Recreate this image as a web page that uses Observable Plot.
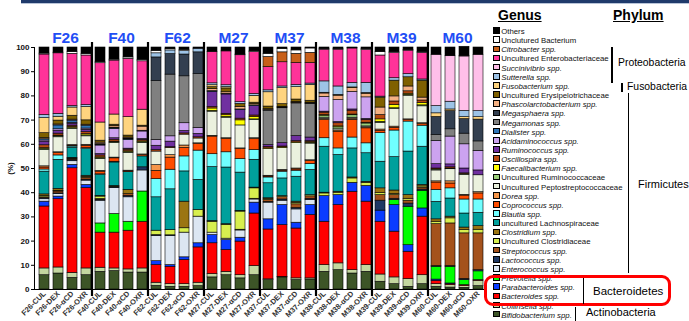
<!DOCTYPE html>
<html>
<head>
<meta charset="utf-8">
<script src="https://cdn.jsdelivr.net/npm/d3@7"></script>
<script src="https://cdn.jsdelivr.net/npm/@observablehq/plot@0.6"></script>
<style>
  body { margin: 0; background: #fff; }
  #wrap { position: relative; width: 689px; height: 321px; overflow: hidden; font-family: "Liberation Sans", Arial, sans-serif; }
  #chart { position: absolute; left: 0; top: 0; }
  .topbar { position: absolute; left: 21px; top: 0; width: 668px; height: 3px; background: #1f3a6b; border-bottom: 1.5px solid #b8c4d8; }
  .hdr { position: absolute; font-weight: bold; font-size: 14px; text-decoration: underline; color: #000; line-height: 14px; }
  .leg { position: absolute; left: 493px; font-size: 7.8px; color: #111; white-space: nowrap; line-height: 9px; }
  .leg i { font-style: italic; }
  .sw { display: inline-block; width: 4.6px; height: 4.6px; border: 0.8px solid #000; margin-right: 1.6px; vertical-align: 0.2px; }
  .vl { position: absolute; background: #000; }
  .ph { position: absolute; font-size: 11px; color: #000; white-space: nowrap; line-height: 12px; }
  .box { position: absolute; border: 3.5px solid #f00; border-radius: 9px; }
</style>
</head>
<body>
<div id="wrap">
  <div class="topbar"></div>
  <div id="chart"></div>
</div>
<script>
// Genera, bottom of each stack first
const genera = [
  "Bifidobacterium spp.", "Collinsella spp.", "Bacteroides spp.", "Parabacteroides spp.",
  "Prevotella spp.", "Enterococcus spp.", "Lactococcus spp.", "Streptococcus spp.",
  "Uncultured Clostridiaceae", "Clostridium spp.", "uncultured Lachnospiraceae", "Blautia spp.",
  "Coprococcus spp.", "Dorea spp.", "Uncultured Peptostreptococcaceae", "Uncultured Ruminococcaceae",
  "Faecalibacterium spp.", "Oscillospira spp.", "Ruminococcus spp.", "Acidaminococcus spp.",
  "Dialister spp.", "Megamonas spp.", "Megasphaera spp.", "Phascolarctobacterium spp.",
  "Uncultured Erysipelotrichaceae", "Fusobacterium spp.", "Sutterella spp.", "Succinivibrio spp.",
  "Uncultured Enterobacteriaceae", "Citrobacter spp.", "Unclutured Bacterium", "Others"
];
const generaColors = [
  "#3d5527", "#c4d7a0", "#ff0000", "#0a3cff",
  "#00ff00", "#dce6f2", "#1f3864", "#a4521c",
  "#d8ef4f", "#9b7512", "#00a09c", "#70ffff",
  "#ff4d00", "#f7964a", "#ebf1de", "#9bd07a",
  "#ffff00", "#b84a10", "#7030a0", "#cca3f0",
  "#2e75b6", "#808080", "#333f50", "#f4b183",
  "#7f6000", "#ffd47f", "#9dc3e6", "#ffbfe9",
  "#ff3399", "#c8601a", "#ffffff", "#000000"
];

const groups = ["F26", "F40", "F62", "M27", "M37", "M38", "M39", "M60"];
const treatments = ["CUL", "DEX", "αCD", "OXR"];

// Relative abundance (%) per sample, same order as genera
const F26_CUL = [5.9,2.8,25.6,2.0,0,1.0,0.5,0.3,0.6,0.6,9.4,0.9,0.8,0.5,6.7,0.5,0.3,1.2,1.5,0.5,0.5,0,0,0.5,2.0,6.2,1.3,0,25.0,0,0.4,2.5];
const F26_DEX = [6.6,2.5,28.2,1.1,0,1.0,0.3,0.8,0.3,0.8,12.0,1.8,1.0,0.3,6.2,0.4,0.3,0.8,1.2,0.6,1.6,0,0,0.4,1.6,1.6,1.2,0,25.0,0,0.3,2.1];
const F26_aCD = [4.8,2.1,43.2,1.4,0,1.5,0.5,0.3,0.3,0.3,4.2,0.5,0.3,0.3,6.6,0.4,0.4,0.6,0.8,0.4,0.9,0,0,0.4,1.6,3.4,0.6,0,21.6,0,0.7,1.9];
const F26_OXR = [5.9,2.8,33.2,1.3,0,1.8,0.4,0.8,0.3,0.5,11.0,0.4,1.0,0.4,3.5,0.4,0.5,0.8,1.0,0.5,1.2,0,0,0.4,1.8,5.5,0.8,0,20.5,0,0.6,2.7];

const F40_CUL = [7.3,1.7,14.5,0,3.8,9.4,0.4,0.3,1.0,0.3,8.6,0.3,1.1,0.3,5.0,0.3,0.3,0.8,0.6,3.5,0.3,0,0.3,0.6,0.8,7.5,0,0,24.5,0,0.4,6.1];
const F40_DEX = [7.6,1.1,14.8,0,7.7,10.7,0.3,0.3,0.3,0,9.7,0.3,1.4,0.3,6.0,0.3,0.3,0.8,0.6,3.8,0.3,0,0.3,0.6,0.6,4.2,0,0,22.3,0,0.4,5.0];
const F40_aCD = [7.0,1.3,16.0,0,3.7,10.1,0.6,0.7,0,1.8,7.3,0,0.3,0.3,7.4,0.3,0.3,0.7,0.4,3.6,0.3,0,0.3,0.4,0.8,7.6,0,0,24.1,0,0.6,4.1];
const F40_OXR = [7.0,1.7,19.3,0,12.5,8.7,1.3,0,0,0,4.5,0,0.5,0.3,4.8,0.3,0.3,0.6,0.4,3.1,0.3,0,0,1.7,0.4,6.6,0,0,20.0,0,0.6,5.1];

const F62_CUL = [1.5,1.3,7.3,1.6,0,10.4,0.4,0,1.8,0,13.8,7.5,3.4,2.4,5.6,0,0,0.6,1.8,2.4,0,24.3,9.8,0,0,0,1.7,0,0,0,1.0,1.4];
const F62_DEX = [1.1,1.1,7.2,0.7,0,12.0,0.3,0,2.2,0,16.8,8.1,5.0,1.0,3.0,0,0,0.3,2.3,2.2,0,25.5,8.5,0,0,0,1.5,0,0,0,0.5,0.7];
const F62_aCD = [1.1,1.1,10.0,1.1,0,10.2,0,0,1.8,11.0,12.5,6.2,3.5,1.0,4.5,0,0,0.5,1.0,3.2,0,19.4,9.0,0,0,0,1.4,0,0,0,0.5,1.0];
const F62_OXR = [1.4,1.4,14.6,1.7,0,11.0,0,0,2.8,0,12.4,12.1,2.7,0.3,2.0,0,0,0.5,1.4,2.5,0,22.2,9.0,0,0,0,1.5,0,0,0,0,0.5];

const M27_CUL = [5.0,1.4,12.7,3.4,0,1.0,0,0,4.5,0.3,22.3,5.3,7.3,0.3,10.0,0.3,1.0,0.6,6.3,0,0.3,0,0,0.8,0.8,0.8,0.8,0,13.0,0,0,1.8];
const M27_DEX = [5.9,1.4,9.0,4.1,0,0.6,0,0,5.7,0.3,23.4,6.3,5.5,0.3,8.5,0.3,0.7,0.6,8.0,0,0.3,0,0,0.6,1.6,0.5,0.8,0,14.0,0,0,1.6];
const M27_aCD = [4.6,1.3,13.9,1.6,0,3.0,0.3,0,7.5,0.3,15.8,5.6,4.1,0.3,9.5,0,2.1,0.7,3.5,0,0.3,0,0,1.1,1.2,0,0.7,0,19.4,0,0.3,2.9];
const M27_OXR = [5.9,3.8,21.7,4.5,0,1.3,0,0.3,4.3,0.3,11.5,4.0,4.5,0.4,7.5,0.3,1.0,0.6,3.9,0,0.3,0,0,0.5,0.6,2.8,0.8,0,17.3,0,0.3,1.6];

const M37_CUL = [3.9,0.3,20.6,4.2,0,6.9,0.3,0.8,0.3,0.4,6.2,2.4,0.4,0.3,11.0,0,0.3,0.6,0.8,0,0,14.2,0.3,0.3,1.1,5.9,0.8,0,9.6,4.2,1.3,2.6];
const M37_DEX = [5.0,0.2,21.4,8.3,0,1.8,0.5,1.0,0.4,0,7.3,2.8,0.4,0.3,9.0,0,0.3,0.4,1.4,0,0,14.4,0.3,0.3,1.1,6.6,0.7,0,10.0,4.1,1.4,0.6];
const M37_aCD = [3.9,0.7,20.6,2.4,0,5.5,0.6,1.5,0.5,0.6,10.3,2.5,0.5,0.4,10.5,0,0.3,0.5,2.1,0,0,13.5,0.3,0.3,1.0,5.1,0.9,0,9.1,3.8,1.4,1.2];
const M37_OXR = [4.1,0.5,26.2,4.1,0,2.1,0.5,1.0,0.5,0,10.4,2.5,1.2,0.3,6.9,0.3,0.3,0.4,1.5,0,0,13.8,0.3,0.3,0.8,6.5,0.6,0,8.5,4.2,1.8,0.4];

const M38_CUL = [7.3,2.8,17.9,10.6,0,0,0,0,1.1,0.3,19.0,3.5,7.5,0.5,0.5,0.8,0.3,1.0,0.4,6.1,0,0,0,1.4,0.3,0,4.7,0,13.1,0,0.3,0.6];
const M38_DEX = [8.0,2.8,24.1,4.1,0,0,0,0,1.0,0.4,15.2,2.7,6.9,0.5,0.5,0.8,0.4,1.3,0.5,9.1,0,0,0,1.8,0.3,0,3.5,0,15.2,0,0.3,0.6];
const M38_aCD = [6.6,1.4,32.4,3.7,0,0,0,0,1.8,0.4,12.0,4.5,7.3,0.5,0.4,1.0,0.3,1.6,0.5,7.3,0,0,0,1.5,0.3,0,1.9,0,14.2,0,0.2,0.2];
const M38_OXR = [7.3,2.8,26.2,6.5,0,0,0,0,1.3,0.4,11.8,4.1,6.2,0.4,0.4,1.2,0.3,1.2,0.4,8.9,0,0,0,1.5,0.3,0,4.2,0,13.6,0,0.3,0.7];

const M39_CUL = [3.2,3.0,21.8,4.6,0,0,4.1,2.3,0.8,2.0,11.0,11.8,1.0,0.5,2.8,0.4,1.0,1.8,0,0,0,0,0,3.1,4.1,0,0.4,0,17.0,0,1.4,1.9];
const M39_DEX = [2.2,2.8,18.9,11.0,2.1,0,0.5,1.5,0.5,1.4,13.8,11.0,1.1,0.5,7.3,0.3,1.4,1.4,0,0,0,0,0,2.1,6.5,0,1.0,0,10.4,0,0.3,2.0];
const M39_aCD = [1.1,3.2,11.3,2.7,15.9,0,1.3,1.2,0.8,1.5,18.0,12.4,0.6,0.3,9.8,0.3,0.5,1.0,0,0,0,0,0,2.0,3.8,0,1.3,0,9.7,0,0.3,1.0];
const M39_OXR = [2.2,3.7,24.2,3.4,7.3,0,0.5,0.8,0.5,0.6,15.8,8.7,0.6,0.4,7.0,0.4,1.0,1.0,0,0,0,0,0,1.2,7.0,0,0.5,0,11.0,0,0.3,1.9];

const M60_CUL = [1.1,1.1,1.4,0.5,5.3,0,0.3,17.3,1.0,1.0,7.2,5.0,3.0,0.5,4.5,0.4,0,0.4,1.8,9.6,0,2.4,7.5,0,0,1.5,3.0,21.2,0,0,0,3.0];
const M60_DEX = [0.8,1.0,0.5,0.2,6.9,0,0.3,17.6,2.1,0.7,7.5,4.2,2.0,0.9,5.0,0.3,0,0.5,1.2,11.5,0,3.0,7.5,0,0,0.7,3.2,18.8,0,0,0,3.6];
const M60_aCD = [0.7,0.7,0.4,0,2.1,0,0.5,18.8,1.4,1.0,5.8,5.8,1.6,0.3,8.3,0.3,0,0.3,2.0,10.0,0,4.4,6.0,0,0,0.8,2.6,22.5,0,0,0.3,3.7];
const M60_OXR = [1.4,2.2,0.3,0,3.6,0,0.5,15.2,1.5,1.5,5.5,5.5,2.5,0.5,7.0,0,0,0,2.0,8.1,0,3.9,9.0,0,0,1.0,2.5,23.3,0,0,0,3.0];

const sampleValues = [
  F26_CUL, F26_DEX, F26_aCD, F26_OXR,
  F40_CUL, F40_DEX, F40_aCD, F40_OXR,
  F62_CUL, F62_DEX, F62_aCD, F62_OXR,
  M27_CUL, M27_DEX, M27_aCD, M27_OXR,
  M37_CUL, M37_DEX, M37_aCD, M37_OXR,
  M38_CUL, M38_DEX, M38_aCD, M38_OXR,
  M39_CUL, M39_DEX, M39_aCD, M39_OXR,
  M60_CUL, M60_DEX, M60_aCD, M60_OXR
];

const sampleNames = groups.flatMap(g => treatments.map(t => `${g}-${t}`));

// Long table: one row per sample × genus, stacked bottom-up in genus order
const rows = [];
sampleValues.forEach((vals, i) => {
  vals.forEach((v, j) => {
    if (v > 0) rows.push({ sample: sampleNames[i], genus: genera[j], value: v });
  });
});

const font = "Liberation Sans, Arial, sans-serif";

const chart = Plot.plot({
  width: 490,
  height: 321,
  marginLeft: 34,
  marginRight: 3,
  marginTop: 47,
  marginBottom: 32,
  style: { fontFamily: font, background: "transparent", overflow: "visible" },
  x: { domain: sampleNames, padding: 0.3, label: null },
  y: { domain: [0, 100], label: null },
  color: { domain: genera, range: generaColors },
  marks: [
    Plot.barY(rows, {
      x: "sample", y: "value", fill: "genus",
      stroke: "#000", strokeWidth: 0.6, order: null
    }),
    Plot.axisX({
      tickRotate: -45, tickSize: 0, tickPadding: 3,
      fontSize: 7.5, fontWeight: "bold", fill: "#333", label: null
    }),
    Plot.axisY({
      ticks: 10, tickSize: 3, tickPadding: 2,
      fontSize: 8, fontWeight: "bold", fill: "#111",
      label: "(%)", labelAnchor: "center", labelArrow: "none", labelOffset: 27
    }),
    Plot.frame({ anchor: "left", stroke: "#000", strokeWidth: 1 }),
    Plot.ruleY([0], { stroke: "#000", strokeWidth: 1 }),
    // thick separators between dog groups
    Plot.ruleX(groups.slice(1), {
      x: g => `${g}-CUL`, dx: -8.5, stroke: "#000", strokeWidth: 2.2,
      insetTop: -5, insetBottom: -7
    }),
    // group names above each block of four bars
    Plot.text(groups, {
      x: g => `${g}-αCD`, dx: -7, frameAnchor: "top", dy: -5, lineAnchor: "bottom",
      text: d => d, fontSize: 15.5, fontWeight: "bold", fill: "#1f4ef5"
    })
  ]
});
document.getElementById("chart").appendChild(chart);

// Legend (top of the stack listed first) and phylum brackets
const wrap = document.getElementById("wrap");
function add(cls, css, html) {
  const el = document.createElement("div");
  el.className = cls;
  Object.assign(el.style, css);
  if (html != null) el.innerHTML = html;
  wrap.appendChild(el);
  return el;
}
add("hdr", { left: "498px", top: "8px" }, "Genus");
add("hdr", { left: "613px", top: "8px" }, "Phylum");

const legendOrder = genera.map((g, j) => j).reverse();
legendOrder.forEach((j, k) => {
  const name = genera[j];
  const label = name.includes("spp.") ? `<i>${name}</i>` : name;
  add("leg", { top: (27 + k * 9.15) + "px" },
    `<span class="sw" style="background:${generaColors[j]}"></span>${label}`);
});

// Proteobacteria
add("vl", { left: "611px", top: "47px", width: "1.5px", height: "36px" });
add("ph", { left: "618px", top: "57px", fontSize: "10.4px" }, "Proteobacteria");
// Fusobacteria
add("vl", { left: "621px", top: "83px", width: "2px", height: "9px" });
add("ph", { left: "627px", top: "81px", fontSize: "10.4px" }, "Fusobacteria");
// Firmicutes
add("vl", { left: "628px", top: "93px", width: "1.3px", height: "180px" });
add("ph", { left: "638px", top: "178px" }, "Firmicutes");
// Bacteroidetes (highlighted)
add("box", { left: "484px", top: "275px", width: "181px", height: "25px" });
add("vl", { left: "583px", top: "278px", width: "1.3px", height: "26px" });
add("ph", { left: "593px", top: "285px", fontSize: "11.5px" }, "Bacteroidetes");
// Actinobacteria
add("vl", { left: "575px", top: "307px", width: "1.3px", height: "14px" });
add("ph", { left: "586px", top: "306px" }, "Actinobacteria");
</script>
</body>
</html>
